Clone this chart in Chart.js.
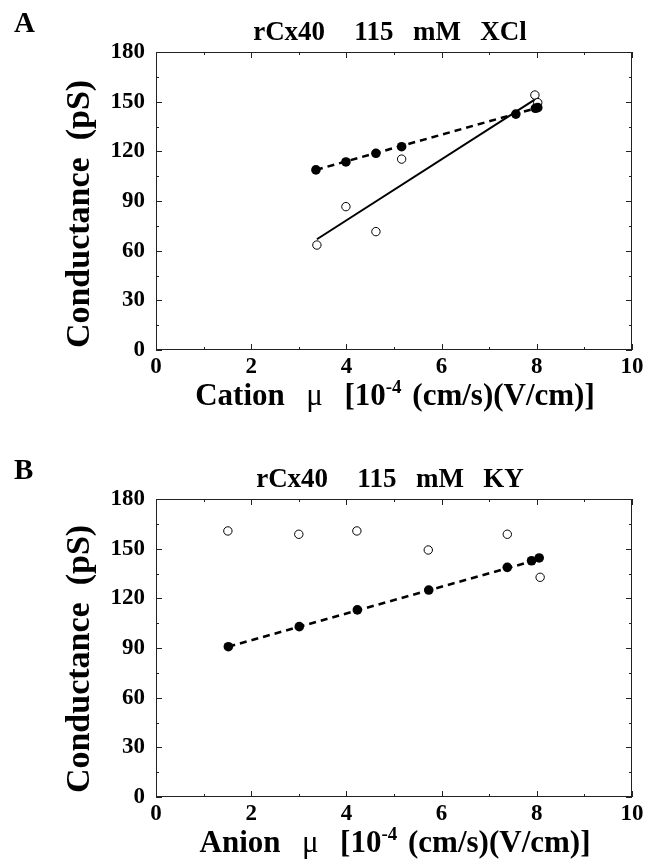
<!DOCTYPE html>
<html>
<head>
<meta charset="utf-8">
<script src="https://cdn.jsdelivr.net/npm/chart.js@4/dist/chart.umd.min.js"></script>
<style>
  html, body { margin: 0; padding: 0; background: #fff; }
  #wrap { position: relative; width: 647px; height: 859px; }
  canvas { position: absolute; left: 0; }
  #chartA { top: 0; }
  #chartB { top: 430px; }
</style>
</head>
<body>
<div id="wrap">
  <canvas id="chartA" width="647" height="430"></canvas>
  <canvas id="chartB" width="647" height="429"></canvas>
</div>
<script>
// Panel A: rCx40, 115 mM XCl (cation mobility)
const xclFilledX = [3.36, 3.99, 4.62, 5.16, 7.56, 7.97, 8.02];
const xclFilledY = [108.8, 113.6, 118.8, 122.8, 142.5, 146, 146.4];
const xclOpenX = [3.38, 3.99, 4.62, 5.16, 7.96, 8.02];
const xclOpenY = [63.4, 86.6, 71.5, 115.3, 154, 149.4];
const xclSolidFitX = [3.38, 8.03];
const xclSolidFitY = [66.9, 152.6];
const xclDashFitX = [3.36, 8.0];
const xclDashFitY = [108.8, 146.2];

// Panel B: rCx40, 115 mM KY (anion mobility)
const kyFilledX = [1.52, 3.01, 4.23, 5.73, 7.38, 7.89, 8.05];
const kyFilledY = [90.8, 102.9, 113, 125, 138.7, 142.7, 144.4];
const kyOpenX = [1.51, 3.0, 4.22, 5.72, 7.38, 8.07];
const kyOpenY = [160.7, 158.7, 160.7, 149.2, 158.7, 132.7];
const kyDashFitX = [1.52, 8.05];
const kyDashFitY = [90.8, 143.6];

// axis ticks
const xTicks = [0, 2, 4, 6, 8, 10];
const yTicks = [0, 30, 60, 90, 120, 150, 180];

const SERIF = '"Liberation Serif", "Times New Roman", serif';

function toPoints(xs, ys) {
    return xs.map((x, i) => ({ x: x, y: ys[i] }));
}

// frame, inward ticks and the panel texts
const decorPlugin = {
    id: 'decor',
    afterDraw(chart, args, opts) {
        const ctx = chart.ctx;
        const area = chart.chartArea;
        const xs = chart.scales.x;
        const ys = chart.scales.y;
        ctx.save();

        ctx.strokeStyle = '#222';
        ctx.lineWidth = 1;
        ctx.strokeRect(area.left + 0.5, area.top + 0.5, area.right - area.left - 1, area.bottom - area.top - 1);

        ctx.beginPath();
        for (let v = 0; v <= 10; v++) {
            const px = Math.round(xs.getPixelForValue(v)) + 0.5;
            const len = v % 2 === 0 ? 6 : 3;
            ctx.moveTo(px, area.bottom); ctx.lineTo(px, area.bottom - len);
            ctx.moveTo(px, area.top); ctx.lineTo(px, area.top + len);
        }
        for (let v = 0; v <= 180; v += 15) {
            const py = Math.round(ys.getPixelForValue(v)) + 0.5;
            const len = v % 30 === 0 ? 6 : 3;
            ctx.moveTo(area.left, py); ctx.lineTo(area.left + len, py);
            ctx.moveTo(area.right, py); ctx.lineTo(area.right - len, py);
        }
        ctx.stroke();

        ctx.fillStyle = '#000';

        // panel letter
        ctx.font = 'bold 29px ' + SERIF;
        ctx.textAlign = 'left';
        ctx.textBaseline = 'alphabetic';
        ctx.fillText(opts.letter, 14, opts.letterY);

        // title
        ctx.font = 'bold 27px ' + SERIF;
        ctx.textAlign = 'center';
        ctx.wordSpacing = '3px';
        ctx.fillText(opts.title, 390, opts.titleY);
        ctx.wordSpacing = '0px';

        // y axis title
        ctx.save();
        ctx.translate(80, opts.yTitleY);
        ctx.rotate(-Math.PI / 2);
        ctx.font = 'bold 34px ' + SERIF;
        ctx.textAlign = 'center';
        ctx.textBaseline = 'middle';
        ctx.fillText('Conductance  (pS)', 0, 0);
        ctx.restore();

        // x axis title with superscript
        const bigFont = 'bold 31px ' + SERIF;
        const muFont = '31px ' + SERIF;
        const supFont = 'bold 19px ' + SERIF;
        const partA = opts.xLabel + '  ';
        const partMu = '\u03bc';
        const partC = '  [10';
        const partSup = '-4';
        const partB = ' (cm/s)(V/cm)]';
        ctx.wordSpacing = '3px';
        ctx.font = bigFont;
        const wA = ctx.measureText(partA).width;
        const wC = ctx.measureText(partC).width;
        const wB = ctx.measureText(partB).width;
        ctx.font = muFont;
        const wM = ctx.measureText(partMu).width;
        ctx.font = supFont;
        const wS = ctx.measureText(partSup).width;
        let x0 = 395 - (wA + wM + wC + wS + wB) / 2;
        const base = opts.xTitleY + 10;
        ctx.textAlign = 'left';
        ctx.textBaseline = 'alphabetic';
        ctx.font = bigFont;
        ctx.fillText(partA, x0, base);
        x0 += wA;
        ctx.font = muFont;
        ctx.fillText(partMu, x0, base);
        x0 += wM;
        ctx.font = bigFont;
        ctx.fillText(partC, x0, base);
        x0 += wC;
        ctx.font = supFont;
        ctx.fillText(partSup, x0, base - 12);
        x0 += wS;
        ctx.font = bigFont;
        ctx.fillText(partB, x0, base);
        ctx.wordSpacing = '0px';

        ctx.restore();
    }
};

function makePanel(canvasId, cfg) {
    const ctx = document.getElementById(canvasId).getContext('2d');
    const datasets = [
        {
            label: 'filled',
            data: toPoints(cfg.filledX, cfg.filledY),
            backgroundColor: '#000',
            borderColor: '#000',
            pointRadius: 4.8,
            borderWidth: 0,
            showLine: false
        },
        {
            label: 'open',
            data: toPoints(cfg.openX, cfg.openY),
            backgroundColor: '#fff',
            borderColor: '#000',
            pointRadius: 4.2,
            pointBorderWidth: 1,
            showLine: false
        }
    ];
    if (cfg.solidX) {
        datasets.push({
            label: 'solid fit',
            data: toPoints(cfg.solidX, cfg.solidY),
            borderColor: '#000',
            borderWidth: 2,
            pointRadius: 0,
            showLine: true
        });
    }
    datasets.push({
        label: 'dashed fit',
        data: toPoints(cfg.dashX, cfg.dashY),
        borderColor: '#000',
        borderWidth: 2.5,
        borderDash: [7, 5],
        pointRadius: 0,
        showLine: true
    });

    return new Chart(ctx, {
        type: 'scatter',
        data: { datasets: datasets },
        options: {
            responsive: false,
            animation: false,
            layout: { padding: { top: cfg.top, right: 15, left: 0, bottom: 0 } },
            plugins: {
                legend: { display: false },
                tooltip: { enabled: false },
                decor: cfg.decor
            },
            scales: {
                x: {
                    type: 'linear',
                    min: 0, max: 10,
                    afterBuildTicks: (s) => { s.ticks = xTicks.map(v => ({ value: v })); },
                    afterFit: (s) => { s.height = cfg.xHeight; },
                    grid: { display: false, drawTicks: false },
                    border: { display: false },
                    ticks: {
                        color: '#000',
                        padding: 3,
                        maxRotation: 0,
                        font: { family: SERIF, size: 23, weight: 'bold' }
                    }
                },
                y: {
                    type: 'linear',
                    min: 0, max: 180,
                    afterBuildTicks: (s) => { s.ticks = yTicks.map(v => ({ value: v })); },
                    afterFit: (s) => { s.width = 156; },
                    grid: { display: false, drawTicks: false },
                    border: { display: false },
                    ticks: {
                        color: '#000',
                        padding: 11,
                        font: { family: SERIF, size: 23, weight: 'bold' }
                    }
                }
            }
        },
        plugins: [decorPlugin]
    });
}

makePanel('chartA', {
    filledX: xclFilledX, filledY: xclFilledY,
    openX: xclOpenX, openY: xclOpenY,
    solidX: xclSolidFitX, solidY: xclSolidFitY,
    dashX: xclDashFitX, dashY: xclDashFitY,
    top: 52, xHeight: 80,
    decor: { letter: 'A', letterY: 32, title: 'rCx40   115  mM  XCl', titleY: 40,
             yTitleY: 214, xLabel: 'Cation', xTitleY: 395 }
});

makePanel('chartB', {
    filledX: kyFilledX, filledY: kyFilledY,
    openX: kyOpenX, openY: kyOpenY,
    dashX: kyDashFitX, dashY: kyDashFitY,
    top: 69, xHeight: 62,
    decor: { letter: 'B', letterY: 49, title: 'rCx40   115  mM  KY', titleY: 57,
             yTitleY: 229, xLabel: 'Anion', xTitleY: 412 }
});
</script>
</body>
</html>
